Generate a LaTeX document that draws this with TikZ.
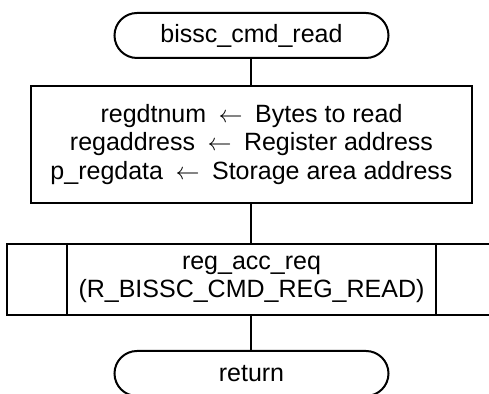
\documentclass[tikz,border=0pt]{standalone}
\usepackage{fontspec}
\setmainfont{Liberation Sans}
\tikzset{
  terminal/.style={draw, rounded corners=11.25pt, minimum width=137pt, minimum height=22.5pt},
  procbox/.style={draw, minimum width=220.5pt, minimum height=58.5pt, align=center},
  callbox/.style={draw, minimum width=244.5pt, minimum height=35.5pt, align=center},
}
\begin{document}
\begin{tikzpicture}[x=0.5pt,y=-0.5pt,line width=1pt]
\fontsize{12.5}{14.2}\selectfont
\useasboundingbox (0,0) rectangle (489,394);
\node[terminal] (start) at (251.5,35.5) {bissc\_cmd\_read};
\node[procbox] (init) at (251.5,144.5) {regdtnum\enspace$\leftarrow$\enspace Bytes to read\\ regaddress\enspace$\leftarrow$\enspace Register address\\ p\_regdata\enspace$\leftarrow$\enspace Storage area address};
\node[callbox] (call) at (251.5,279.5) {reg\_acc\_req\\ (R\_BISSC\_CMD\_REG\_READ)};
\node[terminal] (ret) at (251.5,373.5) {return};
\draw ([xshift=30.5pt]call.north west) -- ([xshift=30.5pt]call.south west);
\draw ([xshift=-30.5pt]call.north east) -- ([xshift=-30.5pt]call.south east);
\draw (start) -- (init);
\draw (init) -- (call);
\draw (call) -- (ret);
\end{tikzpicture}
\end{document}
